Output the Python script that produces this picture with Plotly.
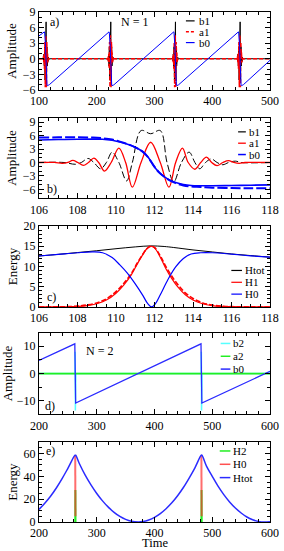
import plotly.graph_objects as go

# ---------------- data ----------------
# Panel b (N = 1, zoom on one transfer event), time axis 106..118
tb_a1 = [106.0, 106.8, 107.2, 107.5, 107.75, 108.02, 108.3, 108.57, 108.85, 109.1, 109.4, 109.75,
         110.15, 110.5, 110.85, 111.3, 111.8, 112.3, 112.75, 113.1, 113.45, 113.75, 114.1, 114.4,
         114.7, 114.97, 115.25, 115.55, 115.85, 116.12, 116.4, 116.7, 117.2, 118.0]
b_a1 = [0.0, 0.02, -0.2, 0.0, 0.45, 0.0, -0.65, 0.0, 0.95, 0.0, -1.9, 0.0,
        3.2, 0.0, -5.5, 0.0, 4.5, 0.0, -5.5, 0.0, 3.2, 0.0, -1.5, 0.0,
        1.2, 0.0, -0.7, 0.0, 0.4, 0.0, -0.2, 0.0, 0.02, 0.0]

tb_b1 = [106.0, 107.3, 107.9, 108.2, 108.55, 108.85, 109.2, 109.5, 109.8, 110.15, 110.55, 110.85,
         111.3, 111.8, 112.3, 112.65, 113.0, 113.4, 113.8, 114.1, 114.35, 114.65, 114.95, 115.25,
         115.55, 115.85, 116.2, 116.5, 118.0]
b_b1 = [0.0, 0.0, -0.4, 0.0, 0.9, 0.0, -1.4, 0.0, 2.3, 0.0, -4.1, 0.0,
        7.1, 6.4, 7.1, 0.0, -4.3, 0.0, 2.3, 0.0, -1.4, 0.0, 0.8, 0.0,
        -0.5, 0.0, 0.3, 0.0, 0.0]

tb_b0 = [106, 107, 108, 108.8, 109.3, 109.8, 110.2, 110.6, 111.0, 111.4, 111.65, 111.85,
         112.05, 112.3, 112.7, 113.1, 113.5, 113.9, 114.4, 115, 116, 117, 118]
b_b0 = [5.0, 5.1, 5.18, 5.2, 5.18, 4.94, 4.56, 4.07, 3.38, 2.37, 1.26, 0.0,
        -1.26, -2.45, -3.69, -4.45, -4.9, -5.12, -5.18, -5.18, -5.12, -5.05, -4.98]
b_b0_alt = [5.55, 5.6, 5.6, 5.55, 5.4, 5.1, 4.65, 4.1, 3.38, 2.37, 1.26, 0.0,
            -1.26, -2.45, -3.75, -4.6, -5.1, -5.35, -5.45, -5.6, -5.7, -5.75, -5.75]

# Panel a (N = 1, long run): transfer events at these times, ends of the ramp
a_centers = [111.8, 223.8, 335.8, 447.8]
a_ref_center = 111.8
a_t_start, a_b0_start = 100.0, 4.4
a_t_end, a_b0_end = 500.0, -0.3

# Panel c energies, time axis 106..118
tc_tot = [106, 107, 108, 109, 110, 111, 111.8, 112.5, 113, 114, 115, 116, 117, 118]
c_tot = [12.6, 13.0, 13.45, 13.9, 14.4, 14.85, 15.1, 14.95, 14.7, 14.1, 13.6, 13.1, 12.7, 12.3]

tc_h0 = [106, 107, 108, 108.8, 109.3, 109.8, 110.2, 110.6, 111.0, 111.4, 111.65, 111.85,
         112.05, 112.3, 112.7, 113.1, 113.5, 113.9, 114.4, 115, 116, 117, 118]
c_h0 = [12.6, 13.0, 13.4, 13.6, 13.4, 12.2, 10.4, 8.3, 5.7, 2.8, 0.8, 0.0,
        0.8, 3.0, 6.8, 9.9, 12.0, 13.1, 13.4, 13.4, 13.05, 12.65, 12.3]

tc_h1 = [106, 107, 107.5, 108, 108.5, 109, 109.5, 110, 110.4, 110.8, 111.1, 111.4, 111.6, 111.8,
         112.0, 112.3, 112.6, 112.9, 113.2, 113.6, 114, 114.5, 115, 115.5, 116, 117, 118]
c_h1 = [0, 0.01, 0.05, 0.15, 0.35, 0.8, 1.7, 3.4, 5.4, 8.0, 10.6, 13.0, 14.4, 15.0,
        14.6, 12.3, 9.4, 7.0, 5.0, 3.0, 1.7, 0.8, 0.35, 0.15, 0.06, 0.01, 0]
c_h1_alt = [0, 0.02, 0.08, 0.2, 0.5, 1.0, 2.0, 3.8, 5.8, 8.3, 10.8, 13.1, 14.4, 15.0,
            14.7, 12.6, 9.9, 7.6, 5.6, 3.5, 2.1, 1.0, 0.45, 0.2, 0.08, 0.02, 0]

# Panel d (N = 2) amplitudes
td_b0 = [200, 262.0, 263.5, 480.5, 482.0, 600]
d_b0 = [4.8, 10.9, -10.8, 10.9, -10.8, 0.8]
td_b2 = [200, 262.2, 262.6, 263.0, 263.4, 263.8, 480.7, 481.1, 481.5, 481.9, 482.3, 600]
d_b2 = [0, 0, 8, -13.5, -2, 0, 0, 8, -13.5, -2, 0, 0]
td_a2 = [200, 600]
d_a2 = [0, 0]

# Panel e (N = 2) energies
te_tot = [200, 210, 220, 230, 240, 250, 262.5, 263.5, 270, 280, 290, 300, 310, 320, 330, 340,
          350, 360, 372, 380, 390, 400, 410, 420, 430, 440, 450, 460, 470, 481, 482, 490, 500,
          510, 520, 530, 540, 550, 560, 570, 580, 590, 600]
e_tot = [11, 16.5, 22.6, 29.8, 38, 47, 58.5, 58.5, 51, 41, 32.5, 25, 18.5, 13, 8.5, 4.9,
         2.3, 0.65, 0, 0.35, 1.7, 4.0, 7.3, 11.6, 16.8, 23, 30.2, 38.5, 47.5, 58.5, 58.5, 49, 40,
         31.4, 24, 17.6, 12.3, 7.9, 4.4, 2, 0.5, 0, 0.3]
te_h0 = [262.7, 263.1, None, 481.2, 481.6]
e_h0 = [58.5, 5, None, 58.5, 5]
te_h2 = [262.8, 263.0, 263.2, None, 481.3, 481.5, 481.7]
e_h2 = [0, 28, 0, None, 0, 28, 0]

# ---------------- build panel a series from the event shape ----------------
ta_b1, a_b1 = [a_t_start], [0.0]
ta_a1, a_a1 = [a_t_start], [0.0]
ta_b0, a_b0 = [a_t_start], [a_b0_start]
for c in a_centers:
    ta_b1 += [t - a_ref_center + c for t in tb_b1]
    a_b1 += b_b1
    ta_a1 += [t - a_ref_center + c for t in tb_a1]
    a_a1 += b_a1
    ta_b0 += [t - a_ref_center + c for t in tb_b0]
    a_b0 += b_b0
ta_b1.append(a_t_end); a_b1.append(0.0)
ta_a1.append(a_t_end); a_a1.append(0.0)
ta_b0.append(a_t_end); a_b0.append(a_b0_end)

# ---------------- figure ----------------
FONT = "Liberation Serif, Times New Roman, serif"
BLUE2 = "#2b2bff"
fig = go.Figure()

def tr(x, y, ax, color, width=1.0, dash="solid", shape="linear", name=None, opacity=1.0):
    fig.add_trace(go.Scatter(x=x, y=y, mode="lines", xaxis="x" + ax, yaxis="y" + ax,
                             line=dict(color=color, width=width, dash=dash, shape=shape),
                             name=name, showlegend=False, opacity=opacity,
                             connectgaps=False))

# a
tr(ta_b1, a_b1, "", "black", 1.0, name="b1")
tr(ta_a1, a_a1, "", "#ff0000", 1.5, dash="4px,2px", name="a1")
tr(ta_b0, a_b0, "", "#0000ff", 1.0, name="b0")
# b
tr(tb_b1, b_b1, "2", "black", 1.0, dash="7px,3px", shape="spline", name="b1")
tr(tb_a1, b_a1, "2", "#ff0000", 1.3, shape="spline", name="a1")
tr(tb_b0, b_b0_alt, "2", "#0000ff", 2.0, dash="10px,3px", shape="spline", name="b0 (dashed)")
tr(tb_b0, b_b0, "2", "#0000ff", 1.6, shape="spline", name="b0")
# c
tr(tc_tot, c_tot, "3", "black", 1.0, shape="spline", name="Htot")
tr(tc_h1, c_h1_alt, "3", "#ff0000", 1.6, dash="5px,2px", shape="spline", name="H1 (dashed)")
tr(tc_h1, c_h1, "3", "#ff0000", 1.2, shape="spline", name="H1")
tr(tc_h0, c_h0, "3", "#0000ff", 1.2, shape="spline", name="H0")
# d
tr(td_b2, d_b2, "4", "#55ffff", 1.5, name="b2")
tr(td_a2, d_a2, "4", "#22ee22", 1.8, name="a2")
tr(td_b0, d_b0, "4", BLUE2, 1.3, name="b0")
# e
tr(te_h2, e_h2, "5", "#22ee22", 2.0, name="H2")
tr(te_h0, e_h0, "5", "#ff3030", 2.0, name="H0", opacity=0.7)
tr(te_tot, e_tot, "5", BLUE2, 1.5, shape="spline", name="Htot")

# ---------------- layout ----------------
W, H = 284, 551
ML, MR, MT, MB = 35, 10, 5, 29
PW, PH = W - ML - MR, H - MT - MB
def px(x):
    return (x - ML) / PW
def py(y):
    return (H - MB - y) / PH

panels = {  # pixel top, bottom
    "": (5, 84), "2": (112, 194), "3": (222, 304), "4": (330, 413), "5": (441, 522)}

tickfont = dict(family=FONT, size=12, color="black")
titlefont = dict(family=FONT, size=13, color="black")

def axstyle(**kw):
    d = dict(showline=True, linecolor="black", linewidth=1, mirror="allticks",
             ticks="inside", ticklen=5, tickcolor="black", tickwidth=1,
             showgrid=False, zeroline=False, tickfont=tickfont)
    d.update(kw)
    return d

xcfg = {
    "": dict(range=[100, 500], dtick=100, tick0=0, minor=dict(dtick=20)),
    "2": dict(range=[106, 118], dtick=2, tick0=0, minor=dict(dtick=0.5)),
    "3": dict(range=[106, 118], dtick=2, tick0=0, minor=dict(dtick=0.5)),
    "4": dict(range=[200, 600], dtick=100, tick0=0, minor=dict(dtick=20)),
    "5": dict(range=[200, 600], dtick=100, tick0=0, minor=dict(dtick=20)),
}
ycfg = {
    "": dict(range=[-6, 9], dtick=3, tick0=0, minor=dict(dtick=1), title="Amplitude"),
    "2": dict(range=[-8, 10], dtick=3, tick0=0, minor=dict(dtick=1), title="Amplitude"),
    "3": dict(range=[0, 20], dtick=5, tick0=0, minor=dict(dtick=1), title="Energy"),
    "4": dict(range=[-15, 15], dtick=10, tick0=0, minor=dict(dtick=5), title="Amplitude"),
    "5": dict(range=[0, 70], dtick=20, tick0=0, minor=dict(dtick=5), title="Energy"),
}

layout = dict(width=W, height=H, margin=dict(l=ML, r=MR, t=MT, b=MB),
              paper_bgcolor="white", plot_bgcolor="white", showlegend=False,
              font=dict(family=FONT, size=12, color="black"))
for k, (top, bot) in panels.items():
    xc = dict(xcfg[k])
    xc["minor"] = dict(ticks="inside", ticklen=3, tickcolor="black", **xc["minor"])
    xax = axstyle(domain=[0, 1], anchor="y" + k, **xc)
    yc = dict(ycfg[k])
    ytitle = yc.pop("title")
    yc["minor"] = dict(ticks="inside", ticklen=3, tickcolor="black", **yc["minor"])
    yax = axstyle(domain=[py(bot), py(top)], anchor="x" + k,
                  title=dict(text=ytitle, font=titlefont, standoff=3), **yc)
    layout["xaxis" + k] = xax
    layout["yaxis" + k] = yax

annotations = []
shapes = []
def text(x, y, s, size=12, xanchor="left"):
    annotations.append(dict(x=px(x), y=py(y), xref="paper", yref="paper", text=s,
                            showarrow=False, xanchor=xanchor, yanchor="middle", borderpad=0,
                            font=dict(family=FONT, size=size, color="black")))

# x-axis title of the bottom panel
text(154.5, 543.5, "Time", size=12.5, xanchor="center")

# panel labels
text(45, 15, "a)")
text(42, 184, "b)")
text(42, 294, "c)")
text(40, 404, "d)")
text(41, 450, "e)")
text(119, 15, "N = 1")
text(83, 349, "N = 2")

# legends (sample line + label)
def legend(x0, x1, xt, rows):
    for (y, label, color, width, dash) in rows:
        shapes.append(dict(type="line", xref="paper", yref="paper",
                           x0=px(x0), x1=px(x1), y0=py(y), y1=py(y),
                           line=dict(color=color, width=width, dash=dash)))
        text(xt, y, label, size=11)

legend(187, 196, 199, [(14, "b1", "black", 1.2, "solid"),
                       (25, "a1", "#ff0000", 1.5, "3px,2px"),
                       (36, "b0", "#0000ff", 1.2, "solid")])
legend(241, 249, 251, [(126.5, "b1", "black", 1.2, "solid"),
                       (138, "a1", "#ff0000", 1.3, "solid"),
                       (149.5, "b0", "#0000ff", 1.5, "solid")])
legend(234, 245, 247, [(267, "Htot", "black", 1.2, "solid"),
                       (279, "H1", "#ff0000", 1.2, "solid"),
                       (291, "H0", "#0000ff", 1.2, "solid")])
legend(223, 233, 235, [(341, "b2", "#55ffff", 1.5, "solid"),
                       (354, "a2", "#22ee22", 1.5, "solid"),
                       (367, "b0", BLUE2, 1.5, "solid")])
legend(222, 233, 235, [(450, "H2", "#22ee22", 1.5, "solid"),
                       (463.5, "H0", "#ff5050", 1.5, "solid"),
                       (477, "Htot", BLUE2, 1.5, "solid")])

layout["annotations"] = annotations
layout["shapes"] = shapes
fig.update_layout(**layout)
# the page's default body margin would shift the 284x551 figure; remove it
fig.write_html("out.html", config={"displayModeBar": False},
               post_script="document.body.style.margin='0px';")
